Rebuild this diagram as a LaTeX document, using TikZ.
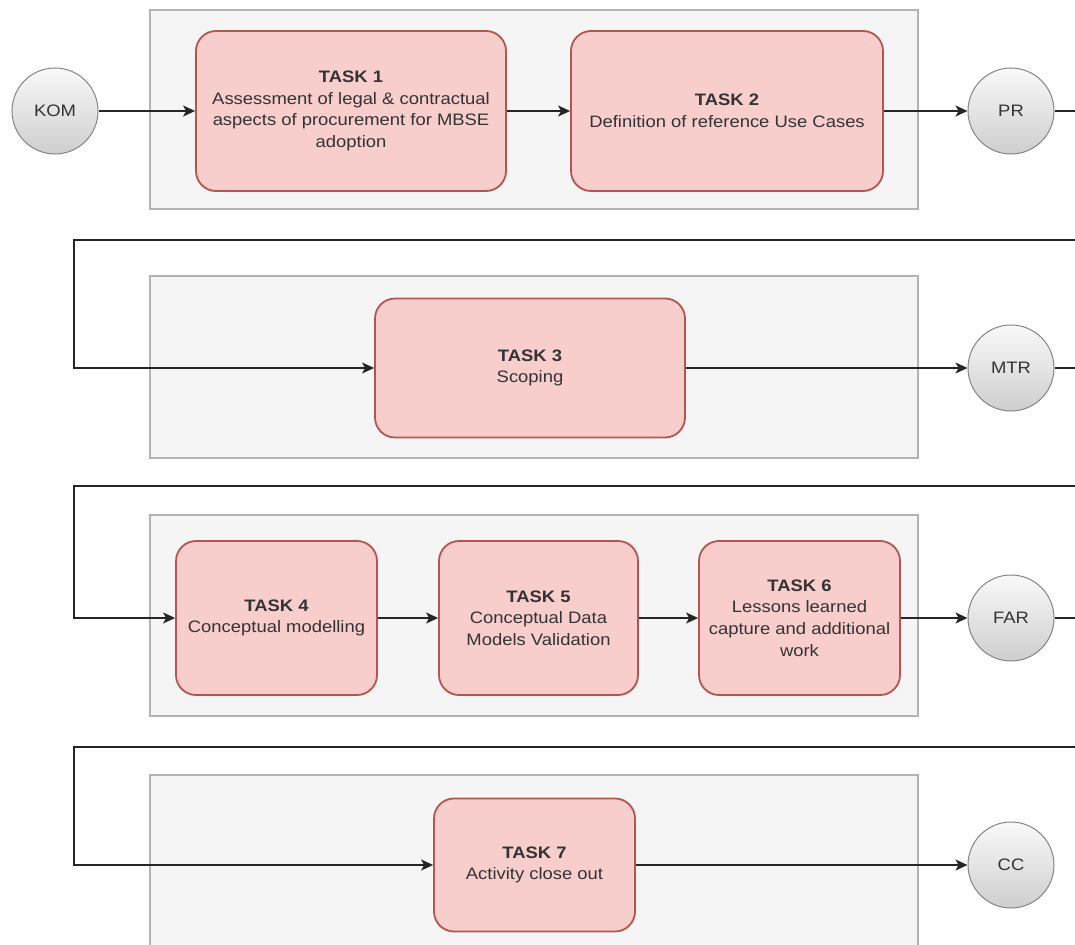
\documentclass[tikz,border=0pt]{standalone}
\usepackage{fontspec}
\setmainfont[FakeStretch=1.11]{Liberation Sans}
\usetikzlibrary{arrows.meta}
\definecolor{taskfill}{HTML}{F8CECC}
\definecolor{taskborder}{HTML}{B85450}
\definecolor{grpfill}{HTML}{F5F5F5}
\definecolor{grpborder}{HTML}{B3B3B3}
\definecolor{txt}{HTML}{333333}
\definecolor{circborder}{HTML}{858585}
\newcommand\tskfont{\fontsize{16.6}{21.6}\selectfont}
\begin{document}
\begin{tikzpicture}[x=1pt,y=-1pt,
  grp/.style={rectangle,draw=grpborder,fill=grpfill,line width=2.5pt,inner sep=0pt},
  task/.style={rectangle,rounded corners=20pt,draw=taskborder,fill=taskfill,line width=1.8pt,align=center,inner sep=0pt,text=txt,font=\tskfont},
  milestone/.style={circle,minimum size=86pt,inner sep=0pt,draw=circborder,line width=1pt,top color=gray!5,bottom color=gray!38,text=txt,font=\tskfont},
  conn/.style={line width=1.3pt,draw=black!85},
  arr/.style={conn,-{Stealth[length=12pt,width=11pt,inset=3pt]}}]
\clip (0,0) rectangle (1075,944);
\fill[white] (0,0) rectangle (1075,944);
% groups
\node[grp,minimum width=768pt,minimum height=199pt] (g1) at (534,109.5) {};
\node[grp,minimum width=768pt,minimum height=182pt] (g2) at (534,367) {};
\node[grp,minimum width=768pt,minimum height=201pt] (g3) at (534,615.5) {};
\node[grp,minimum width=768pt,minimum height=225pt] (g4) at (534,887.5) {};
% tasks
\node[task,minimum width=310pt,minimum height=160pt] (t1) at (351,111)
  {\textbf{TASK 1}\\Assessment of legal \& contractual\\aspects of procurement for MBSE\\adoption};
\node[task,minimum width=312pt,minimum height=160pt] (t2) at (727,111)
  {\textbf{TASK 2}\\Definition of reference Use Cases};
\node[task,minimum width=310pt,minimum height=139pt] (t3) at (530,368)
  {\textbf{TASK 3}\\Scoping};
\node[task,minimum width=201pt,minimum height=154pt] (t4) at (276.5,618)
  {\textbf{TASK 4}\\Conceptual modelling};
\node[task,minimum width=199pt,minimum height=154pt] (t5) at (538.5,618)
  {\textbf{TASK 5}\\Conceptual Data\\Models Validation};
\node[task,minimum width=201pt,minimum height=154pt] (t6) at (799.5,618)
  {\textbf{TASK 6}\\Lessons learned\\capture and additional\\work};
\node[task,minimum width=201pt,minimum height=133pt] (t7) at (534.5,865)
  {\textbf{TASK 7}\\Activity close out};
% milestones
\node[milestone] (kom) at (55,111) {KOM};
\node[milestone] (pr) at (1011,111) {PR};
\node[milestone] (mtr) at (1011,368) {MTR};
\node[milestone] (far) at (1011,618) {FAR};
\node[milestone] (cc) at (1011,865) {CC};
% turn points
\coordinate (r1) at (1100,240);
\coordinate (l1) at (74,240);
\coordinate (r2) at (1100,486);
\coordinate (l2) at (74,486);
\coordinate (r3) at (1100,747);
\coordinate (l3) at (74,747);
% connectors
\draw[arr] (kom.east) -- (t1.west);
\draw[arr] (t1.east) -- (t2.west);
\draw[arr] (t2.east) -- (pr.west);
\draw[arr] (pr.east) -| (r1) -- (l1) |- (t3.west);
\draw[arr] (t3.east) -- (mtr.west);
\draw[arr] (mtr.east) -| (r2) -- (l2) |- (t4.west);
\draw[arr] (t4.east) -- (t5.west);
\draw[arr] (t5.east) -- (t6.west);
\draw[arr] (t6.east) -- (far.west);
\draw[arr] (far.east) -| (r3) -- (l3) |- (t7.west);
\draw[arr] (t7.east) -- (cc.west);
\end{tikzpicture}
\end{document}
